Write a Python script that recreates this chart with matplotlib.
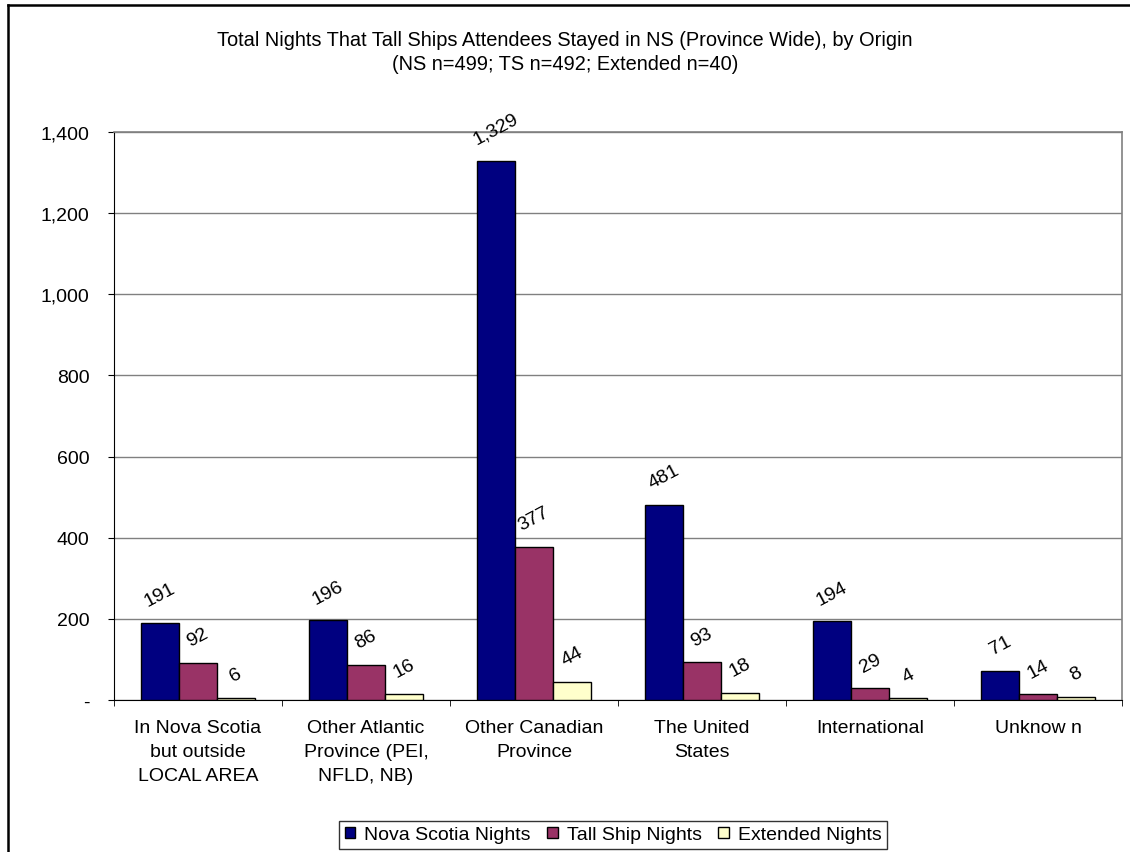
import matplotlib
matplotlib.use("Agg")
import matplotlib.pyplot as plt
from matplotlib.lines import Line2D
from matplotlib.ticker import FuncFormatter, FixedLocator
import numpy as np

plt.rcParams['font.family'] = ['Liberation Sans', 'DejaVu Sans']

categories = ["In Nova Scotia\nbut outside\nLOCAL AREA",
              "Other Atlantic\nProvince (PEI,\nNFLD, NB)",
              "Other Canadian\nProvince",
              "The United\nStates",
              "International",
              "Unknow n"]
nova_scotia_nights = [191, 196, 1329, 481, 194, 71]
tall_ship_nights = [92, 86, 377, 93, 29, 14]
extended_nights = [6, 16, 44, 18, 4, 8]
series_names = ["Nova Scotia Nights", "Tall Ship Nights", "Extended Nights"]
series_colors = ["#000080", "#993366", "#FFFFCC"]

FS = 14

fig = plt.figure(figsize=(11.30, 8.53), dpi=100)
W, H = 1130, 853
left, right, top, bottom = 114, 1122, 133, 701
ax = fig.add_axes([left / W, 1 - bottom / H, (right - left) / W, (bottom - top) / H])

x = np.arange(len(categories))
width = 0.226
for i, (vals, name, col) in enumerate(zip([nova_scotia_nights, tall_ship_nights, extended_nights],
                                           series_names, series_colors)):
    pos = x + (i - 1) * width
    ax.bar(pos, vals, width, color=col, edgecolor="black", linewidth=1.0,
           label=name, zorder=3)
    for xp, v in zip(pos, vals):
        ax.annotate(f"{v:,}", (xp, v), xytext=(0, 9.5), textcoords="offset points",
                    ha="center", va="bottom", rotation=28, fontsize=FS, zorder=4)

ax.set_xlim(-0.5, len(categories) - 0.5)
ax.set_ylim(0, 1400)
ax.yaxis.set_major_locator(FixedLocator(np.arange(0, 1401, 200)))
ax.yaxis.set_major_formatter(FuncFormatter(lambda v, p: "-" if v == 0 else f"{int(v):,}"))
ax.grid(axis="y", color="#808080", linewidth=1.0, zorder=0)
ax.set_axisbelow(True)

ax.set_xticks(x)
ax.set_xticklabels(categories, fontsize=FS, linespacing=1.53)
ax.tick_params(axis="x", length=0, pad=14)
ax.xaxis.set_minor_locator(FixedLocator(np.arange(-0.5, len(categories), 1.0)))
ax.tick_params(axis="x", which="minor", length=4.5, direction="out", color="black")
ax.tick_params(axis="y", length=4.5, direction="out", labelsize=FS, pad=13)

for s in ["top", "right"]:
    ax.spines[s].set_color("#808080")
    ax.spines[s].set_linewidth(1.2)
ax.spines["left"].set_color("black")
ax.spines["bottom"].set_color("black")

fig.text(0.5, 1 - 40 / H, "Total Nights That Tall Ships Attendees Stayed in NS (Province Wide), by Origin",
         ha="center", va="center", fontsize=14.4)
fig.text(0.5, 1 - 64 / H, "(NS n=499; TS n=492; Extended n=40)",
         ha="center", va="center", fontsize=14.4)

leg = fig.legend(loc="center", bbox_to_anchor=(613 / W, 1 - 836 / H), ncol=3, fontsize=FS,
                 frameon=True, fancybox=False, edgecolor="black", handlelength=0.55,
                 handleheight=0.55, handletextpad=0.45, columnspacing=0.85, borderpad=0.3)
leg.get_frame().set_linewidth(1.0)

# outer chart border (left and top edges)
fig.add_artist(Line2D([8 / W, 8 / W], [0, 1 - 6 / H], color="black", linewidth=1.8,
                      transform=fig.transFigure))
fig.add_artist(Line2D([8 / W, 1], [1 - 6 / H, 1 - 6 / H], color="black", linewidth=1.8,
                      transform=fig.transFigure))

fig.savefig("out.png", dpi=100)
